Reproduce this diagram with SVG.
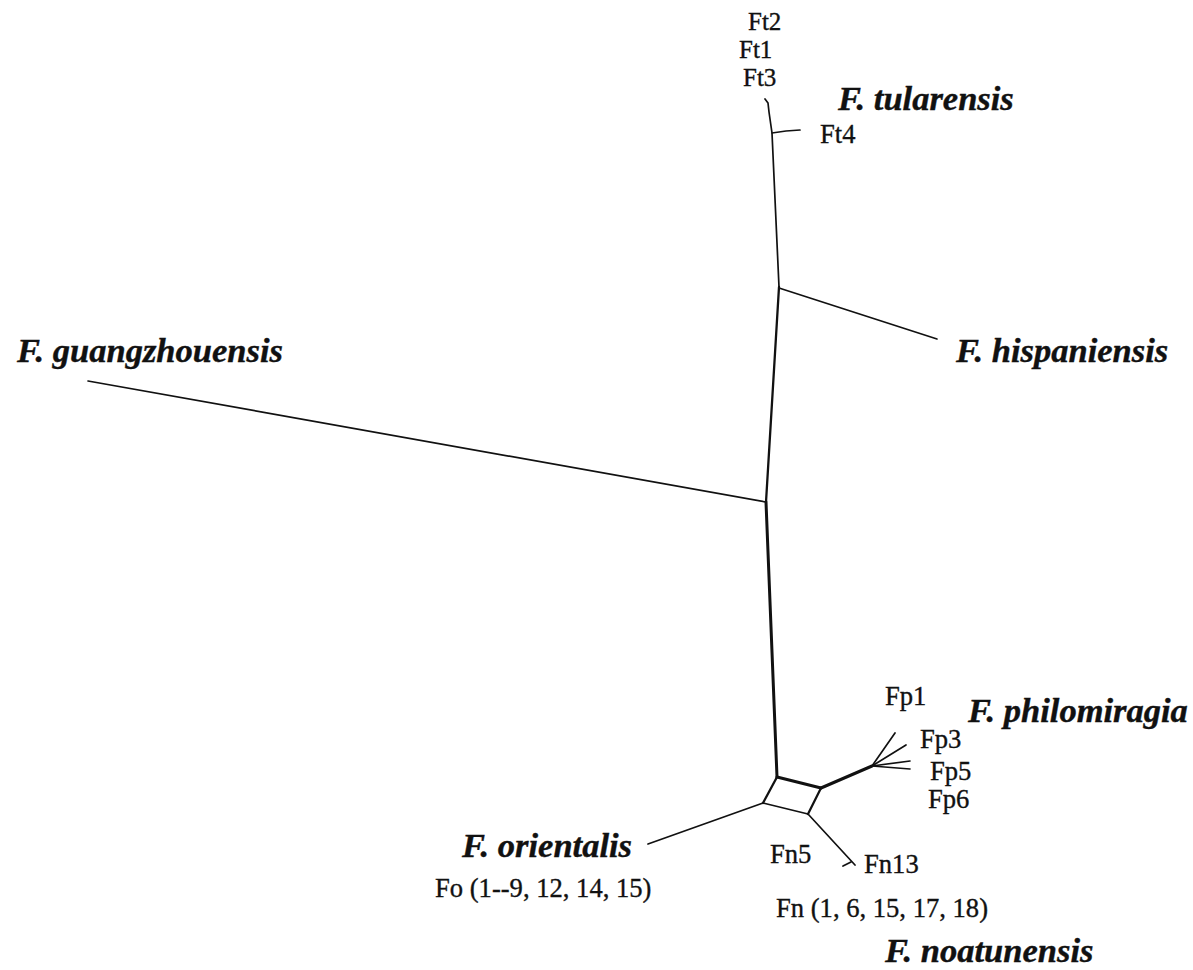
<svg xmlns="http://www.w3.org/2000/svg" width="1193" height="970" viewBox="0 0 1193 970">
<style>
.e{fill:none;stroke:#111;stroke-width:1.7;stroke-linecap:round;stroke-linejoin:round}
.t{stroke-width:3}
.m{stroke-width:2.3}
.lab{font-family:"Liberation Serif","Times New Roman",serif;font-size:26.6px;fill:#111;stroke:#111;stroke-width:0.35}
.sm{font-size:25px}
.sp{font-family:"Liberation Serif","Times New Roman",serif;font-size:34.5px;font-weight:bold;font-style:italic;fill:#111;stroke:#111;stroke-width:0.4}
</style>
<rect width="1193" height="970" fill="#fff"/>
<g id="connectors">
<path class="e" d="M765,99 L768,103 L769,112 L772,133 L779,287"/>
<path class="e" d="M772,133 L786,131 L800,130"/>
<path class="e" d="M779,288 L937,339"/>
<path class="e m" d="M779,287 L766,502"/>
<path class="e" d="M88,381 L766,502"/>
<path class="e t" d="M766,502 L777,777"/>
<path class="e t" d="M777,777 L821,788"/>
<path class="e m" d="M777,777 L763,803"/>
<path class="e m" d="M821,788 L808,814"/>
<path class="e" d="M763,803 L808,814"/>
<path class="e t" d="M821,788 L872,766"/>
<path class="e" d="M872,766 L895,733"/>
<path class="e" d="M872,766 L906,745"/>
<path class="e" d="M872,766 L910,761"/>
<path class="e" d="M872,766 L910,769"/>
<path class="e" d="M763,803 L648,844"/>
<path class="e" d="M808,814 L855,865"/>
<path class="e" d="M843,866 L851,862"/>
</g>
<g id="node-ft2"><text class="lab sm" x="748" y="30">Ft2</text></g>
<g id="node-ft1"><text class="lab sm" x="739" y="58">Ft1</text></g>
<g id="node-ft3"><text class="lab sm" x="743" y="86">Ft3</text></g>
<g id="node-tularensis"><text class="sp" x="838" y="110">F. tularensis</text></g>
<g id="node-ft4"><text class="lab" x="820" y="143">Ft4</text></g>
<g id="node-hispaniensis"><text class="sp" x="956" y="362">F. hispaniensis</text></g>
<g id="node-guangzhouensis"><text class="sp" x="17" y="362">F. guangzhouensis</text></g>
<g id="node-fp1"><text class="lab" x="885" y="705">Fp1</text></g>
<g id="node-philomiragia"><text class="sp" x="968" y="722">F. philomiragia</text></g>
<g id="node-fp3"><text class="lab" x="920" y="748">Fp3</text></g>
<g id="node-fp5"><text class="lab" x="930" y="780">Fp5</text></g>
<g id="node-fp6"><text class="lab" x="928" y="808">Fp6</text></g>
<g id="node-orientalis"><text class="sp" x="462" y="857">F. orientalis</text></g>
<g id="node-fo"><text class="lab" x="435" y="897">Fo (1--9, 12, 14, 15)</text></g>
<g id="node-fn5"><text class="lab" x="770" y="863">Fn5</text></g>
<g id="node-fn13"><text class="lab" x="864" y="873">Fn13</text></g>
<g id="node-fn"><text class="lab" x="776" y="917">Fn (1, 6, 15, 17, 18)</text></g>
<g id="node-noatunensis"><text class="sp" x="885" y="962">F. noatunensis</text></g>
</svg>
